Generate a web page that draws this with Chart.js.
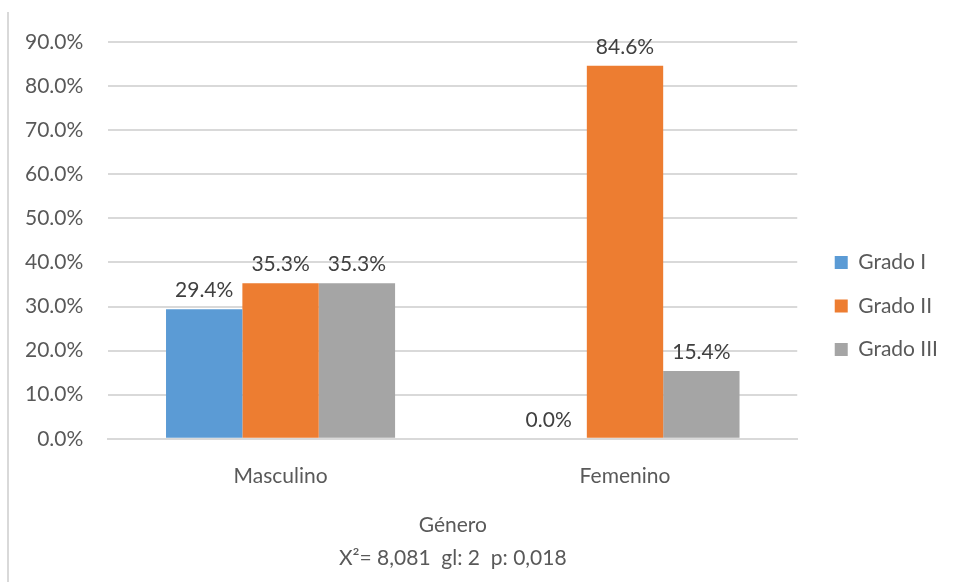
<!DOCTYPE html>
<html>
<head>
<meta charset="utf-8">
<script src="https://cdn.jsdelivr.net/npm/chart.js@4/dist/chart.umd.min.js"></script>
<style>
  html, body { margin: 0; padding: 0; background: #fff; }
  #wrap { position: relative; width: 956px; height: 582px; }
  #edge { position: absolute; left: 7px; top: 12px; width: 2px; height: 570px; background: #d9d9d9; }
  canvas { position: absolute; left: 0; top: 0; }
</style>
</head>
<body>
<div id="wrap">
  <div id="edge"></div>
  <canvas id="chart" width="956" height="582"></canvas>
</div>
<script>
const categories = ['Masculino', 'Femenino'];
const seriesNames = ['Grado I', 'Grado II', 'Grado III'];
const gradoI = [29.4, 0.0];
const gradoII = [35.3, 84.6];
const gradoIII = [35.3, 15.4];
const yTicks = [0, 10, 20, 30, 40, 50, 60, 70, 80, 90];
const axisTitle = ['Género', 'X²= 8,081  gl: 2  p: 0,018'];

const colors = ['#5b9bd5', '#ed7d31', '#a5a5a5'];
const FONT = 'Lato, "Open Sans", sans-serif';

// etiquetas de valor encima de cada barra
const valueLabels = {
  id: 'valueLabels',
  afterDatasetsDraw(chart) {
    const ctx = chart.ctx;
    ctx.save();
    ctx.font = '21px ' + FONT;
    ctx.fillStyle = '#404040';
    ctx.textAlign = 'center';
    ctx.textBaseline = 'alphabetic';
    chart.data.datasets.forEach((ds, i) => {
      chart.getDatasetMeta(i).data.forEach((bar, j) => {
        ctx.fillText(ds.data[j].toFixed(1) + '%', bar.x, bar.y - 12);
      });
    });
    ctx.restore();
  }
};

new Chart(document.getElementById('chart'), {
  type: 'bar',
  data: {
    labels: categories,
    datasets: [
      { label: seriesNames[0], data: gradoI, backgroundColor: colors[0] },
      { label: seriesNames[1], data: gradoII, backgroundColor: colors[1] },
      { label: seriesNames[2], data: gradoIII, backgroundColor: colors[2] }
    ]
  },
  options: {
    responsive: false,
    animation: false,
    layout: { padding: { left: 0, right: 8, top: 42, bottom: 12 } },
    datasets: { bar: { categoryPercentage: 0.665, barPercentage: 1 } },
    plugins: {
      legend: {
        position: 'right',
        labels: {
          font: { family: FONT, size: 21 },
          color: '#595959',
          boxWidth: 13,
          boxHeight: 13,
          padding: 22.5
        }
      },
      tooltip: { enabled: false }
    },
    scales: {
      x: {
        grid: { display: false, drawTicks: false },
        border: { color: '#d9d9d9', width: 2 },
        ticks: { font: { family: FONT, size: 21 }, color: '#595959', padding: 25 },
        title: {
          display: true,
          text: axisTitle,
          font: { family: FONT, size: 21, lineHeight: 1.571 },
          color: '#595959',
          padding: { top: -5, bottom: -5 }
        }
      },
      y: {
        min: 0,
        max: 90,
        afterBuildTicks: axis => { axis.ticks = yTicks.map(v => ({ value: v })); },
        grid: { color: '#d9d9d9', lineWidth: 2, drawTicks: false },
        border: { display: false },
        ticks: {
          font: { family: FONT, size: 21 },
          color: '#595959',
          padding: 25,
          callback: v => v.toFixed(1) + '%'
        }
      },
      // espacio entre el área del gráfico y la leyenda
      gap: {
        position: 'right',
        display: true,
        grid: { display: false },
        border: { display: false },
        ticks: { display: false },
        afterFit: s => { s.width = 15; }
      }
    }
  },
  plugins: [valueLabels]
});
</script>
</body>
</html>
